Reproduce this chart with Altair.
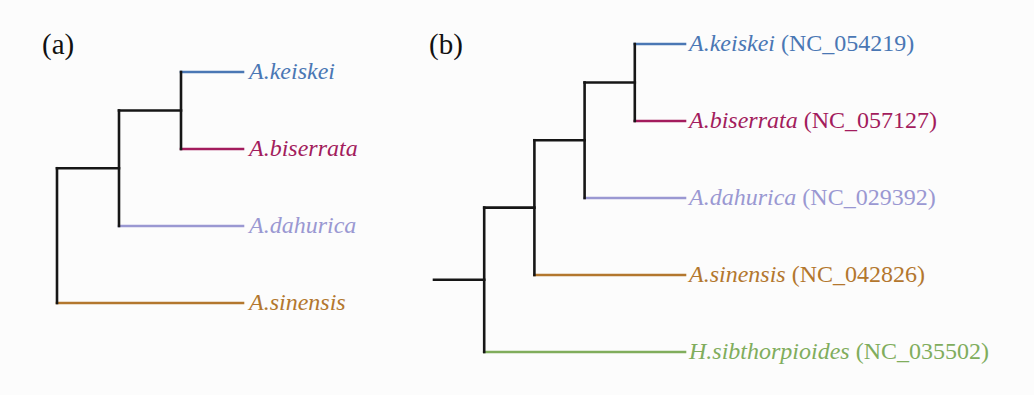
import altair as alt
import pandas as pd

# ---------------- data ----------------
# topology of tree (a) and tree (b) as nested lists (cladogram)
topology_a = [[["A.keiskei", "A.biserrata"], "A.dahurica"], "A.sinensis"]
topology_b = [[[["A.keiskei", "A.biserrata"], "A.dahurica"], "A.sinensis"], "H.sibthorpioides"]

species = ["A.keiskei", "A.biserrata", "A.dahurica", "A.sinensis", "H.sibthorpioides"]
accessions = ["(NC_054219)", "(NC_057127)", "(NC_029392)", "(NC_042826)", "(NC_035502)"]
colors = ["#4a77b4", "#a31c5d", "#9a98d2", "#b3772e", "#80ad5c"]
panel_labels = ["(a)", "(b)"]

FONT = "Liberation Serif"
NAME_SIZE = 24

# Times italic advance widths (per 1000 em) used to place the upright accession after the italic name
ITALIC_W = {"A": 611, "H": 722, ".": 250, "k": 444, "e": 444, "i": 278, "s": 389, "b": 500,
            "r": 389, "a": 500, "t": 278, "d": 500, "h": 500, "u": 500, "c": 444, "n": 500,
            "o": 500, "p": 500, " ": 250}


def text_width(s, size):
    return sum(ITALIC_W.get(ch, 500) for ch in s) * size / 1000.0


def layout(topology):
    """Cladogram layout: leaves aligned at max depth, nodes at mean of children."""
    leaves = []

    def depth_of(t):
        if isinstance(t, str):
            return 0
        return 1 + max(depth_of(c) for c in t)

    maxd = depth_of(topology)

    def walk(t, d):
        if isinstance(t, str):
            y = len(leaves)
            leaves.append(t)
            return {"name": t, "x": maxd, "y": y, "leaf": True, "children": []}
        kids = [walk(c, d + 1) for c in t]
        return {"name": None, "x": d, "y": sum(k["y"] for k in kids) / len(kids),
                "leaf": False, "children": kids}

    root = walk(topology, 0)
    return root, maxd, len(leaves)


def edges_of(root, stub):
    rows = []

    def rec(node):
        for k in node["children"]:
            col = colors[species.index(k["name"])] if k["leaf"] else "#161616"
            rows.append({"x": node["x"], "x2": k["x"], "y": k["y"], "y2": k["y"], "c": col})
            rec(k)
        if node["children"]:
            ys = [k["y"] for k in node["children"]]
            rows.append({"x": node["x"], "x2": node["x"], "y": min(ys), "y2": max(ys), "c": "#161616"})

    rec(root)
    if stub:
        rows.append({"x": root["x"] - 1, "x2": root["x"], "y": root["y"], "y2": root["y"], "c": "#161616"})
    return pd.DataFrame(rows)


def leaves_of(root):
    out = []

    def rec(n):
        if n["leaf"]:
            out.append(n)
        for k in n["children"]:
            rec(k)

    rec(root)
    return out


def panel(topology, label, with_acc, xrange, yrange, width, stub, dx_name, label_pos):
    root, maxd, nleaf = layout(topology)
    xmin = -1 if stub else 0
    e = edges_of(root, stub)
    px_per_unit = (xrange[1] - xrange[0]) / (maxd - xmin)
    lrows = []
    for n in leaves_of(root):
        i = species.index(n["name"])
        w = text_width(n["name"] + " ", NAME_SIZE)
        lrows.append({"name": n["name"], "acc": accessions[i], "x": n["x"], "y": n["y"],
                      "xacc": n["x"] + (dx_name + w) / px_per_unit, "c": colors[i]})
    ldf = pd.DataFrame(lrows)

    xs = alt.Scale(domain=[xmin, maxd], range=xrange)
    ys = alt.Scale(domain=[0, nleaf - 1], range=yrange)

    rules = alt.Chart(e).mark_rule(strokeWidth=2.6, strokeCap="square").encode(
        x=alt.X("x:Q", scale=xs, axis=None),
        x2="x2:Q",
        y=alt.Y("y:Q", scale=ys, axis=None),
        y2="y2:Q",
        color=alt.Color("c:N", scale=None),
    )
    names = alt.Chart(ldf).mark_text(font=FONT, fontSize=NAME_SIZE, fontStyle="italic",
                                     align="left", baseline="middle", dx=dx_name).encode(
        x=alt.X("x:Q", scale=xs, axis=None),
        y=alt.Y("y:Q", scale=ys, axis=None),
        text="name:N",
        color=alt.Color("c:N", scale=None),
    )
    layers = [rules, names]
    if with_acc:
        acc = alt.Chart(ldf).mark_text(font=FONT, fontSize=NAME_SIZE, align="left",
                                       baseline="middle").encode(
            x=alt.X("xacc:Q", scale=xs, axis=None),
            y=alt.Y("y:Q", scale=ys, axis=None),
            text="acc:N",
            color=alt.Color("c:N", scale=None),
        )
        layers.append(acc)
    lab = alt.Chart(pd.DataFrame({"t": [label]})).mark_text(
        font=FONT, fontSize=29, align="left", baseline="middle", color="#111111").encode(
        x=alt.value(label_pos[0]), y=alt.value(label_pos[1]), text="t:N")
    layers.append(lab)
    return alt.layer(*layers).properties(width=width, height=395)


pa = panel(topology_a, panel_labels[0], False, [57, 243], [72, 303], 410, False, 6, (42, 45))
pb = panel(topology_b, panel_labels[1], True, [24, 275], [44, 352], 624, True, 4, (19, 45))

chart = alt.hconcat(pa, pb, spacing=0).properties(
    padding=0, background="#fcfcfc"
).configure_view(stroke=None)

chart.save("out.html", embed_options={"renderer": "svg", "actions": False})
